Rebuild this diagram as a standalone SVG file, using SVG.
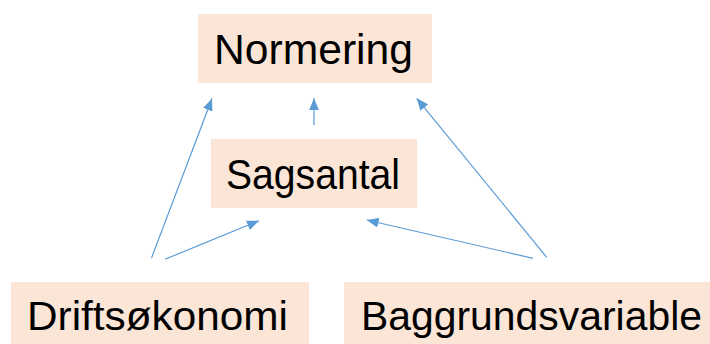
<svg xmlns="http://www.w3.org/2000/svg" width="710" height="344" viewBox="0 0 710 344">
<style>
.box{fill:#FBE5D6;}
.lbl{font-family:"Liberation Sans",Arial,sans-serif;font-size:43px;fill:#000;}
.low{font-size:41px;}
.conn{stroke:#5B9BD5;stroke-width:1.2;fill:none;marker-end:url(#ah);}
</style>
<defs>
<marker id="ah" markerUnits="userSpaceOnUse" markerWidth="12" markerHeight="10" viewBox="0 0 12 10" refX="12" refY="5" orient="auto">
<path d="M0,0 L12,5 L0,10 Z" fill="#5B9BD5"/>
</marker>
</defs>
<rect width="710" height="344" fill="#fff"/>
<g id="normering">
<rect class="box" x="198" y="14" width="234" height="69"/>
<text class="lbl" x="214" y="64" textLength="199" lengthAdjust="spacingAndGlyphs">Normering</text>
</g>
<g id="sagsantal">
<rect class="box" x="211" y="139" width="206" height="69"/>
<text class="lbl" x="226" y="189" textLength="174" lengthAdjust="spacingAndGlyphs">Sagsantal</text>
</g>
<g id="driftsokonomi">
<rect class="box" x="11" y="282" width="298" height="62"/>
<text class="lbl low" x="27" y="330" textLength="261" lengthAdjust="spacingAndGlyphs">Driftsøkonomi</text>
</g>
<g id="baggrundsvariable">
<rect class="box" x="344" y="282" width="366" height="62"/>
<text class="lbl low" x="361" y="330" textLength="341" lengthAdjust="spacingAndGlyphs">Baggrundsvariable</text>
</g>
<g id="connectors">
<line class="conn" x1="151.5" y1="258" x2="212" y2="98.5"/>
<line class="conn" x1="165" y1="259.3" x2="259" y2="220.7"/>
<line class="conn" x1="314" y1="125" x2="314" y2="98.3"/>
<line class="conn" x1="533" y1="258.3" x2="366.7" y2="220"/>
<line class="conn" x1="546.7" y1="257.3" x2="416.7" y2="98.3"/>
</g>
</svg>
